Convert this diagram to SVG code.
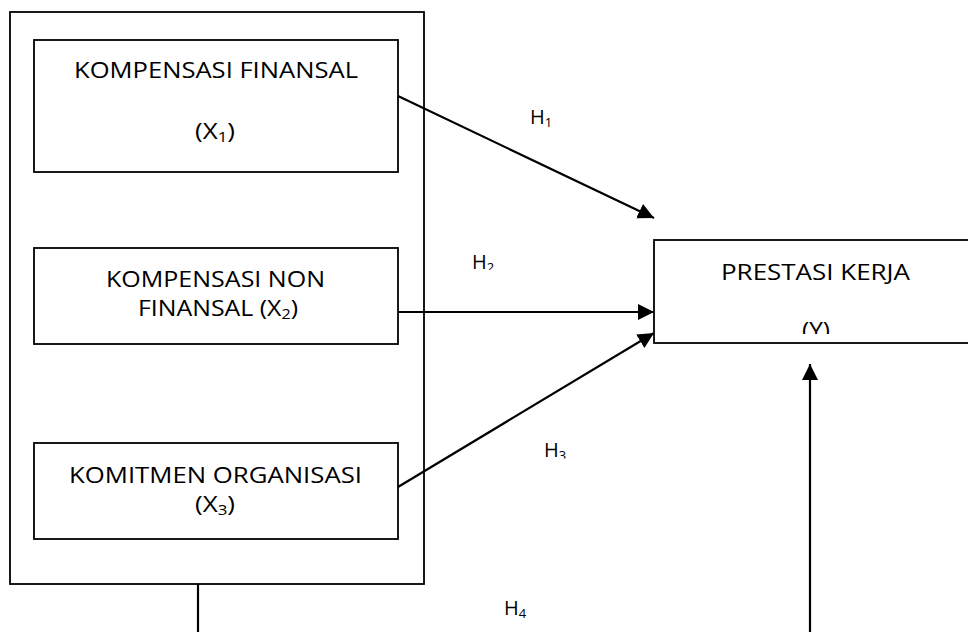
<svg xmlns="http://www.w3.org/2000/svg" width="968" height="632" viewBox="0 0 968 632">
<style>
.box{fill:#fff;stroke:#000;stroke-width:1.8}
.t{font-family:"Open Sans","Noto Sans","DejaVu Sans",sans-serif;font-size:21.5px;fill:#000}
.h{font-family:"Open Sans","Noto Sans","DejaVu Sans",sans-serif;font-size:20px;fill:#000}
.c{stroke:#000;stroke-width:2.2;fill:none}
</style>
<defs>
<marker id="ah" markerUnits="userSpaceOnUse" markerWidth="18" markerHeight="18" refX="16" refY="8" orient="auto">
<path d="M0,0 L16,8 L0,16 Z" fill="#000"/>
</marker>
<clipPath id="clipY"><rect x="654" y="240" width="314" height="94"/></clipPath>
<clipPath id="clipH2"><rect x="440" y="240" width="100" height="30"/></clipPath>
<clipPath id="clipH3"><rect x="520" y="430" width="80" height="28.5"/></clipPath>
</defs>
<rect class="box" x="10" y="12" width="414" height="572"/>
<g id="x1">
<rect class="box" x="34" y="40" width="364" height="132"/>
<text class="t" x="216" y="78" text-anchor="middle" textLength="284" lengthAdjust="spacingAndGlyphs">KOMPENSASI FINANSAL</text>
<text class="t" x="215" y="139" text-anchor="middle" textLength="40" lengthAdjust="spacingAndGlyphs">(X<tspan font-size="14" dy="3">1</tspan><tspan dy="-3">)</tspan></text>
</g>
<g id="x2">
<rect class="box" x="34" y="248" width="364" height="96"/>
<text class="t" x="215.5" y="287" text-anchor="middle" textLength="219" lengthAdjust="spacingAndGlyphs">KOMPENSASI NON</text>
<text class="t" x="218" y="316" text-anchor="middle" textLength="160" lengthAdjust="spacingAndGlyphs">FINANSAL (X<tspan font-size="14" dy="3">2</tspan><tspan dy="-3">)</tspan></text>
</g>
<g id="x3">
<rect class="box" x="34" y="443" width="364" height="96"/>
<text class="t" x="215.5" y="483" text-anchor="middle" textLength="293" lengthAdjust="spacingAndGlyphs">KOMITMEN ORGANISASI</text>
<text class="t" x="215" y="512" text-anchor="middle" textLength="40" lengthAdjust="spacingAndGlyphs">(X<tspan font-size="14" dy="3">3</tspan><tspan dy="-3">)</tspan></text>
</g>
<g id="y">
<rect class="box" x="654" y="240" width="330" height="103"/>
<text class="t" x="815.5" y="280" text-anchor="middle" textLength="189" lengthAdjust="spacingAndGlyphs">PRESTASI KERJA</text>
<text class="t" x="816" y="338" text-anchor="middle" textLength="28" lengthAdjust="spacingAndGlyphs" clip-path="url(#clipY)">(Y)</text>
</g>
<g id="connectors">
<line class="c" x1="398" y1="96" x2="654" y2="218" marker-end="url(#ah)"/>
<line class="c" x1="398" y1="312" x2="654" y2="312" marker-end="url(#ah)"/>
<line class="c" x1="398" y1="487" x2="654" y2="333" marker-end="url(#ah)"/>
<line class="c" x1="198" y1="584" x2="198" y2="632"/>
<line class="c" x1="810" y1="632" x2="810" y2="364" marker-end="url(#ah)"/>
<text class="h" x="530" y="124">H<tspan font-size="13" dy="3">1</tspan></text>
<text class="h" x="472" y="269" clip-path="url(#clipH2)">H<tspan font-size="13" dy="3">2</tspan></text>
<text class="h" x="544" y="457" clip-path="url(#clipH3)">H<tspan font-size="13" dy="3">3</tspan></text>
<text class="h" x="504" y="615">H<tspan font-size="13" dy="3">4</tspan></text>
</g>
</svg>
